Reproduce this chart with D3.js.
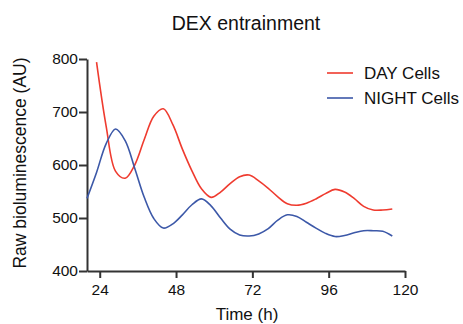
<!DOCTYPE html>
<html>
<head>
<meta charset="utf-8">
<script src="https://cdn.jsdelivr.net/npm/d3@7"></script>
<style>
  body { margin: 0; background: #fff; }
  text { font-family: "Liberation Sans", Arial, sans-serif; fill: #111; }
</style>
</head>
<body>
<svg id="chart" width="463" height="324"></svg>
<script>
// DAY cells trace (hours, raw bioluminescence)
const dayTime = [23, 26, 29, 32, 35, 38, 41, 44, 47, 50, 53, 56, 59, 62, 65, 68, 71, 74, 77, 80, 83, 86, 89, 92, 95, 98, 101, 104, 107, 110, 113, 116];
const dayValues = [794, 674, 588, 575, 600, 648, 692, 706, 676, 630, 589, 555, 539, 549, 565, 578, 581, 570, 556, 540, 527, 524, 528, 536, 546, 554, 549, 537, 522, 515, 515, 517];

// NIGHT cells trace
const nightTime = [20, 23, 26, 29, 32, 35, 38, 41, 44, 47, 50, 53, 56, 59, 62, 65, 68, 71, 74, 77, 80, 83, 86, 89, 92, 95, 98, 101, 104, 107, 110, 113, 116];
const nightValues = [537, 586, 640, 668, 646, 594, 539, 499, 481, 489, 506, 525, 536, 523, 500, 479, 468, 466, 470, 480, 496, 506, 503, 492, 481, 471, 465, 467, 472, 476, 476, 475, 466];

const xTicks = [24, 48, 72, 96, 120];
const yTicks = [400, 500, 600, 700, 800];

const series = [
  { name: 'DAY Cells', color: '#ef3b2f', time: dayTime, values: dayValues },
  { name: 'NIGHT Cells', color: '#3c58a8', time: nightTime, values: nightValues }
];

const svg = d3.select('#chart');
const margin = { left: 87, right: 58, top: 59, bottom: 53 };
const width = 463, height = 324;

const x = d3.scaleLinear().domain([20, 120]).range([margin.left, width - margin.right]);
const y = d3.scaleLinear().domain([400, 800]).range([height - margin.bottom, margin.top]);

// title
svg.append('text')
  .attr('x', 246)
  .attr('y', 30)
  .attr('text-anchor', 'middle')
  .attr('font-size', '19.5px')
  .text('DEX entrainment');

// axes
const xAxis = svg.append('g')
  .attr('transform', `translate(0, ${y(400)})`)
  .call(d3.axisBottom(x).tickValues(xTicks).tickSize(7).tickPadding(6).tickSizeOuter(0));
const yAxis = svg.append('g')
  .attr('transform', `translate(${x(20)}, 0)`)
  .call(d3.axisLeft(y).tickValues(yTicks).tickSize(8).tickPadding(1).tickSizeOuter(0));

[xAxis, yAxis].forEach(g => {
  g.select('.domain').attr('stroke', '#333').attr('stroke-width', 2);
  g.selectAll('.tick line').attr('stroke', '#333').attr('stroke-width', 2);
  g.selectAll('.tick text')
    .attr('font-family', '"Liberation Sans", Arial, sans-serif')
    .attr('font-size', '15.5px')
    .attr('fill', '#111');
});

// axis labels
svg.append('text')
  .attr('x', 247)
  .attr('y', 320)
  .attr('text-anchor', 'middle')
  .attr('font-size', '17px')
  .text('Time (h)');

svg.append('text')
  .attr('transform', 'translate(26, 163) rotate(-90)')
  .attr('text-anchor', 'middle')
  .attr('font-size', '17.5px')
  .text('Raw bioluminescence (AU)');

// lines
const line = d3.line()
  .x(d => x(d[0]))
  .y(d => y(d[1]))
  .curve(d3.curveCatmullRom.alpha(0.5));

svg.append('g')
  .selectAll('.trace')
  .data(series)
  .join('path')
  .attr('class', 'trace')
  .attr('fill', 'none')
  .attr('stroke', d => d.color)
  .attr('stroke-width', 1.6)
  .attr('d', d => line(d.time.map((t, i) => [t, d.values[i]])));

// legend
const legend = svg.append('g')
  .selectAll('.legend')
  .data(series)
  .join('g')
  .attr('class', 'legend')
  .attr('transform', (d, i) => `translate(327, ${73 + i * 25})`);

legend.append('line')
  .attr('x1', 0).attr('x2', 26)
  .attr('stroke', d => d.color)
  .attr('stroke-width', 1.6);

legend.append('text')
  .attr('x', 37)
  .attr('y', 6)
  .attr('font-size', '17px')
  .text(d => d.name);
</script>
</body>
</html>
